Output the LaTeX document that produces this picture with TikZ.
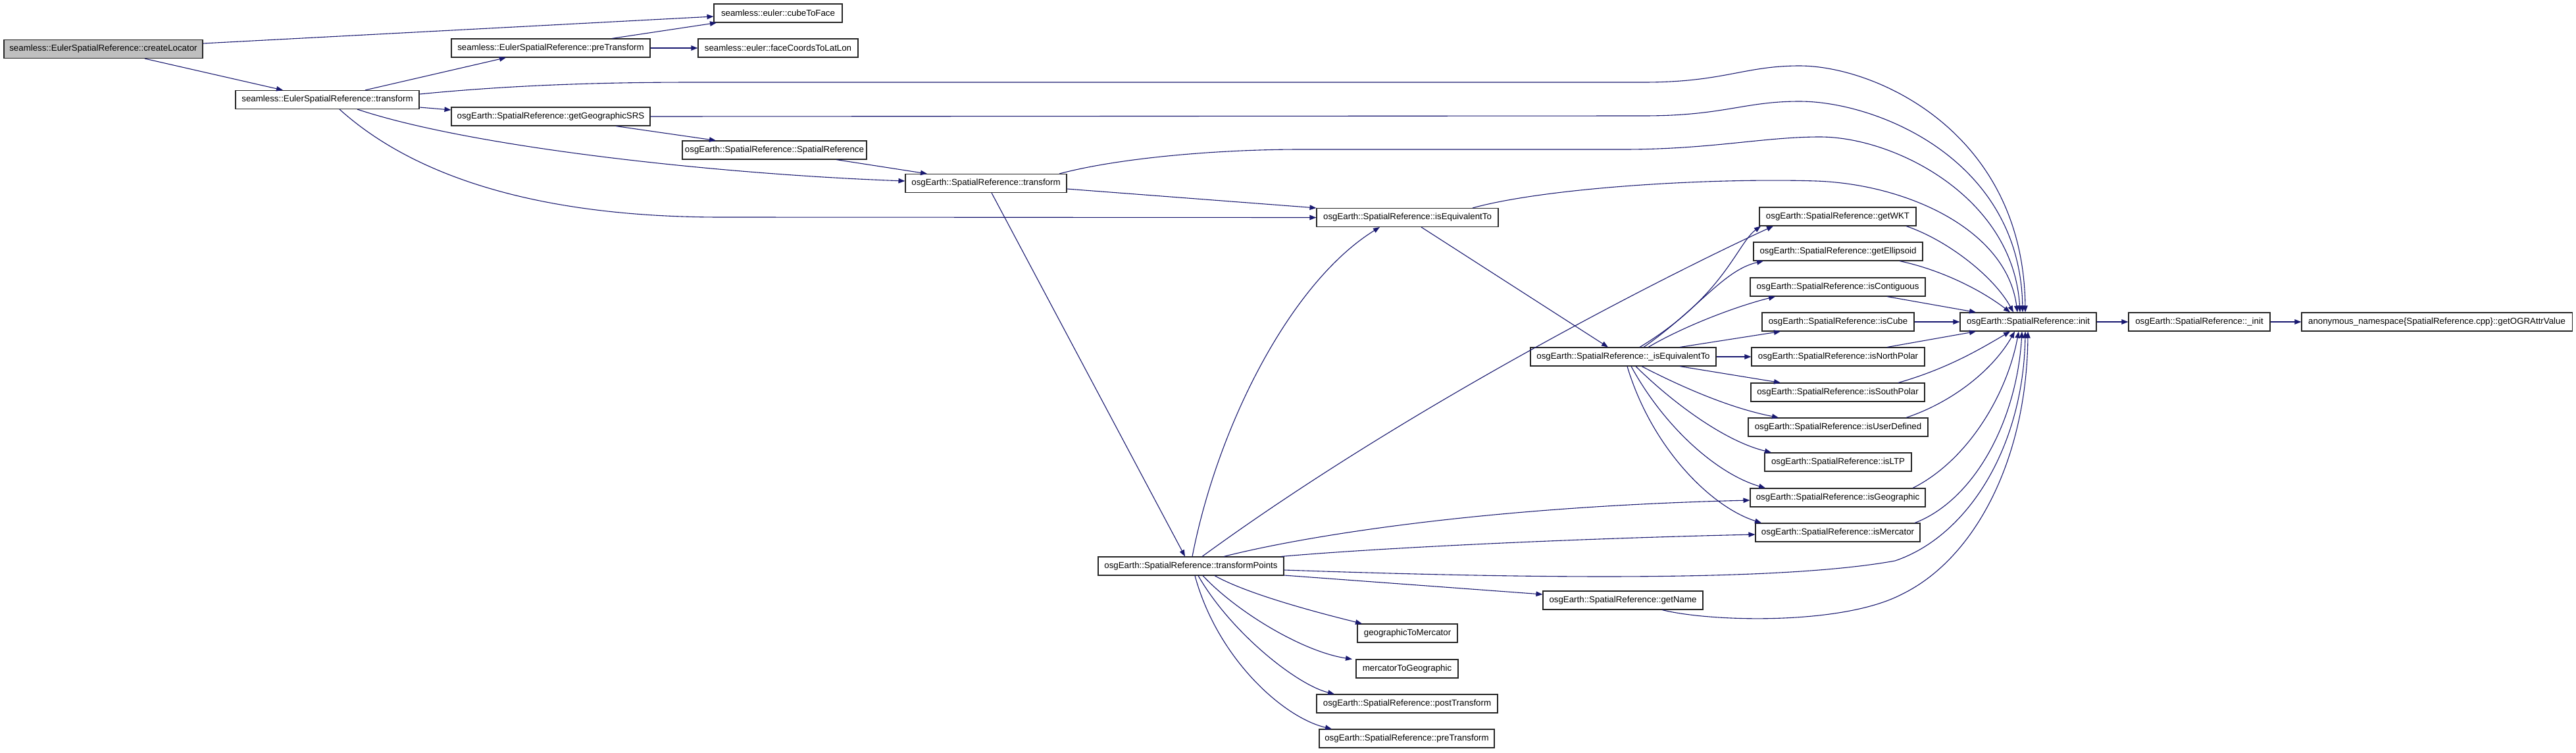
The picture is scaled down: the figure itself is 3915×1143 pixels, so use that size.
\documentclass[tikz,border=0pt]{standalone}
\usepackage{fontspec}
\setmainfont{Liberation Sans}
\usetikzlibrary{arrows.meta,calc}
\definecolor{edgeblue}{HTML}{191970}
\definecolor{nodegray}{HTML}{BFBFBF}
\begin{document}
\begin{tikzpicture}[x=1pt,y=-1pt,
  box/.style={draw=black!85, fill=white, line width=1.1pt, minimum height=28pt, inner sep=0pt,
    font=\fontsize{13.3}{16}\selectfont},
  edge/.style={draw=edgeblue, line width=1.1pt, -{Triangle[length=10pt,width=7.5pt]}}]
\useasboundingbox[fill=white] (0,0) rectangle (3915,1143);
% nodes
\node[box, fill=nodegray, minimum width=302pt] (cl) at (157,74.5) {seamless::EulerSpatialReference::createLocator};
\node[box, minimum width=195pt] (ctf) at (1182.5,20) {seamless::euler::cubeToFace};
\node[box, minimum width=302pt] (spt) at (837,73) {seamless::EulerSpatialReference::preTransform};
\node[box, minimum width=243pt] (fc) at (1182.5,73) {seamless::euler::faceCoordsToLatLon};
\node[box, minimum width=279pt] (st) at (497.5,151.5) {seamless::EulerSpatialReference::transform};
\node[box, minimum width=302pt] (ggs) at (837,177) {osgEarth::SpatialReference::getGeographicSRS};
\node[box, minimum width=280pt] (src) at (1177,228) {osgEarth::SpatialReference::SpatialReference};
\node[box, minimum width=245pt] (ot) at (1498.5,278.5) {osgEarth::SpatialReference::transform};
\node[box, minimum width=276pt] (ie) at (2139,330.5) {osgEarth::SpatialReference::isEquivalentTo};
\node[box, minimum width=238pt] (wkt) at (2793,329) {osgEarth::SpatialReference::getWKT};
\node[box, minimum width=257pt] (ell) at (2793.5,382) {osgEarth::SpatialReference::getEllipsoid};
\node[box, minimum width=266pt] (cont) at (2793,436) {osgEarth::SpatialReference::isContiguous};
\node[box, minimum width=231pt] (cube) at (2793.5,489) {osgEarth::SpatialReference::isCube};
\node[box, minimum width=207pt] (init) at (3082.5,489) {osgEarth::SpatialReference::init};
\node[box, minimum width=215pt] (initb) at (3342.5,489) {osgEarth::SpatialReference::\_init};
\node[box, minimum width=411pt] (ogr) at (3703.5,489) {anonymous\_namespace\{SpatialReference.cpp\}::getOGRAttrValue};
\node[box, minimum width=282pt] (iex) at (2467,542) {osgEarth::SpatialReference::\_isEquivalentTo};
\node[box, minimum width=263pt] (np) at (2793.5,542) {osgEarth::SpatialReference::isNorthPolar};
\node[box, minimum width=264pt] (sp) at (2793,596) {osgEarth::SpatialReference::isSouthPolar};
\node[box, minimum width=273pt] (ud) at (2793.5,649) {osgEarth::SpatialReference::isUserDefined};
\node[box, minimum width=223pt] (ltp) at (2793.5,702) {osgEarth::SpatialReference::isLTP};
\node[box, minimum width=266pt] (geo) at (2793,756) {osgEarth::SpatialReference::isGeographic};
\node[box, minimum width=250pt] (merc) at (2793,809) {osgEarth::SpatialReference::isMercator};
\node[box, minimum width=282pt] (tp) at (1810,860) {osgEarth::SpatialReference::transformPoints};
\node[box, minimum width=243pt] (gn) at (2466.5,912) {osgEarth::SpatialReference::getName};
\node[box, minimum width=152pt] (gtm) at (2139,962) {geographicToMercator};
\node[box, minimum width=155pt] (mtg) at (2138.5,1016) {mercatorToGeographic};
\node[box, minimum width=275pt] (post) at (2138.5,1069) {osgEarth::SpatialReference::postTransform};
\node[box, minimum width=266pt] (pre) at (2138,1122) {osgEarth::SpatialReference::preTransform};
% edges
\draw[edge] (cl.east |- 0,66) -- (ctf.west |- 0,25);
\draw[edge] (cl.south -| 220,0) -- (st.north -| 430,0);
\draw[edge] (st.north -| 555,0) -- (spt.south -| 769,0);
\draw[edge] (spt.north -| 930,0) -- (ctf.south -| 1089,0);
\draw[edge] (spt.east) -- (fc.west);
\draw[edge] (st.east |- 0,163) -- (ggs.west |- 0,167);
\draw[edge] (st.east |- 0,143) .. controls (800,127) and (950,125) .. (1059,125) -- (2498,125) .. controls (2620,125) and (2650,100) .. (2735,100) .. controls (2850,100) and (3075,200) .. (init.north -| 3078,0);
\draw[edge] (ggs.east |- 0,177) -- (2498,176) .. controls (2620,176) and (2650,154) .. (2735,154) .. controls (2850,154) and (3070,240) .. (init.north -| 3074,0);
\draw[edge] (ot.north -| 1610,0) .. controls (1700,240) and (1850,227) .. (1977,227) -- (2467,227) .. controls (2600,227) and (2680,208) .. (2766,208) .. controls (2880,208) and (3060,300) .. (init.north -| 3070,0);
\draw[edge] (ie.north -| 2238,0) .. controls (2350,285) and (2600,270) .. (2760,275) .. controls (2900,280) and (3050,350) .. (init.north -| 3066,0);
\draw[edge] (wkt.south -| 2897,0) .. controls (2960,365) and (3030,420) .. (init.north -| 3060,0);
\draw[edge] (ell.south -| 2887,0) .. controls (2950,410) and (3010,440) .. (init.north -| 3055,0);
\draw[edge] (cont.south -| 2868,0) -- (init.north -| 3003,0);
\draw[edge] (cube.east) -- (init.west);
\draw[edge] (np.north -| 2868,0) -- (init.south -| 3003,0);
\draw[edge] (sp.north -| 2885,0) .. controls (2960,560) and (3010,530) .. (init.south -| 3055,0);
\draw[edge] (ud.north -| 2897,0) .. controls (2970,610) and (3030,560) .. (init.south -| 3062,0);
\draw[edge] (geo.north -| 2907,0) .. controls (2990,700) and (3050,600) .. (init.south -| 3068,0);
\draw[edge] (merc.north -| 2910,0) .. controls (3000,760) and (3065,640) .. (init.south -| 3073,0);
\draw[edge] (tp.east |- 0,866) .. controls (2300,878) and (2700,885) .. (2880,852) .. controls (2990,815) and (3075,680) .. (init.south -| 3078,0);
\draw[edge] (gn.south -| 2526,0) .. controls (2600,945) and (2800,950) .. (2890,903) .. controls (3000,850) and (3080,700) .. (init.south -| 3082,0);
\draw[edge] (init.east) -- (initb.west);
\draw[edge] (initb.east) -- (ogr.west);
\draw[edge] (st.south -| 543,0) .. controls (720,225) and (1100,265) .. (ot.west |- 0,275);
\draw[edge] (st.south -| 516,0) .. controls (620,260) and (800,330) .. (1097,330) -- (ie.west);
\draw[edge] (ggs.south -| 936,0) -- (src.north -| 1088,0);
\draw[edge] (src.south -| 1271,0) -- (ot.north -| 1409,0);
\draw[edge] (ot.east |- 0,287) -- (ie.north west);
\draw[edge] (ot.south -| 1507,0) -- (tp.north -| 1801,0);
\draw[edge] (ie.south -| 2160,0) -- (iex.north -| 2444,0);
\draw[edge] (iex.north -| 2492,0) .. controls (2620,450) and (2640,370) .. (wkt.south -| 2676,0);
\draw[edge] (iex.north -| 2498,0) .. controls (2580,470) and (2620,410) .. (ell.south -| 2680,0);
\draw[edge] (iex.north -| 2505,0) .. controls (2560,495) and (2640,465) .. (cont.south -| 2698,0);
\draw[edge] (iex.north -| 2553,0) -- (cube.south -| 2706,0);
\draw[edge] (iex.east) -- (np.west);
\draw[edge] (iex.south -| 2553,0) -- (sp.north -| 2706,0);
\draw[edge] (iex.south -| 2495,0) .. controls (2560,590) and (2630,620) .. (ud.north -| 2703,0);
\draw[edge] (iex.south -| 2486,0) .. controls (2540,610) and (2620,670) .. (ltp.north -| 2692,0);
\draw[edge] (iex.south -| 2479,0) .. controls (2530,650) and (2610,720) .. (geo.north -| 2683,0);
\draw[edge] (iex.south -| 2473,0) .. controls (2510,680) and (2600,770) .. (merc.north -| 2677,0);
\draw[edge] (tp.north -| 1812,0) .. controls (1850,650) and (1960,430) .. (ie.south -| 2097,0);
\draw[edge] (tp.north -| 1827,0) .. controls (2150,610) and (2550,410) .. (wkt.south -| 2695,0);
\draw[edge] (tp.north -| 1860,0) .. controls (1980,815) and (2250,770) .. (geo.west |- 0,760);
\draw[edge] (tp.north -| 1947,0) .. controls (2100,832) and (2400,818) .. (merc.west |- 0,812);
\draw[edge] (tp.east |- 0,874) -- (gn.west |- 0,903);
\draw[edge] (tp.south -| 1846,0) .. controls (1900,905) and (2020,935) .. (gtm.north -| 2070,0);
\draw[edge] (tp.south -| 1828,0) .. controls (1880,930) and (1980,990) .. (mtg.north -| 2055,0);
\draw[edge] (tp.south -| 1821,0) .. controls (1870,960) and (1970,1040) .. (post.north -| 2028,0);
\draw[edge] (tp.south -| 1816,0) .. controls (1850,1000) and (1950,1090) .. (pre.north -| 2024,0);
\end{tikzpicture}
\end{document}
